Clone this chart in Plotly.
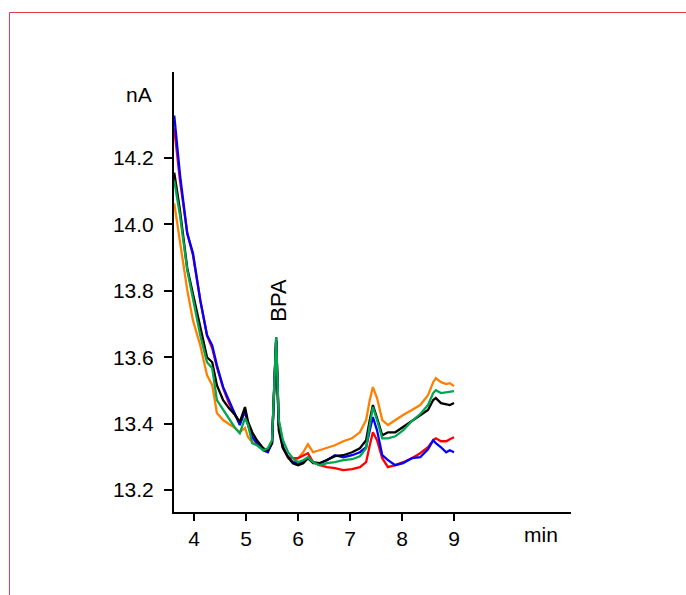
import plotly.graph_objects as go

time_min = [3.62, 3.73, 3.87, 3.98, 4.12, 4.25, 4.35, 4.44, 4.56, 4.67, 4.79, 4.88, 4.98, 5.04, 5.12,
            5.21, 5.33, 5.42, 5.50, 5.58, 5.63, 5.71, 5.81, 5.90, 6.00, 6.10, 6.19, 6.29, 6.42, 6.56,
            6.71, 6.87, 7.04, 7.19, 7.31, 7.38, 7.44, 7.52, 7.62, 7.73, 7.87, 8.02, 8.19, 8.35, 8.50,
            8.60, 8.65, 8.75, 8.85, 8.92, 9.00]

orange_nA = [14.063, 13.943, 13.802, 13.711, 13.636, 13.546, 13.516, 13.432, 13.411, 13.399, 13.387, 13.374,
             13.387, 13.359, 13.344, 13.341, 13.326, 13.320, 13.344, 13.645, 13.411, 13.335, 13.296, 13.284,
             13.296, 13.314, 13.338, 13.314, 13.320, 13.326, 13.335, 13.347, 13.356, 13.374, 13.411, 13.471,
             13.510, 13.477, 13.411, 13.396, 13.411, 13.426, 13.441, 13.456, 13.486, 13.525, 13.537, 13.525,
             13.519, 13.522, 13.513]

red_nA = [14.289, 14.132, 13.973, 13.907, 13.772, 13.666, 13.627, 13.570, 13.507, 13.462, 13.426, 13.402,
          13.435, 13.396, 13.359, 13.341, 13.323, 13.320, 13.341, 13.651, 13.396, 13.329, 13.299, 13.296,
          13.296, 13.305, 13.311, 13.284, 13.275, 13.269, 13.266, 13.260, 13.263, 13.269, 13.284, 13.335,
          13.374, 13.350, 13.296, 13.269, 13.275, 13.284, 13.296, 13.311, 13.329, 13.350, 13.356, 13.347,
          13.347, 13.353, 13.359]

blue_nA = [14.328, 14.150, 13.973, 13.913, 13.772, 13.666, 13.636, 13.576, 13.510, 13.471, 13.432, 13.396,
           13.441, 13.396, 13.359, 13.341, 13.320, 13.314, 13.341, 13.651, 13.396, 13.329, 13.299, 13.284,
           13.281, 13.284, 13.296, 13.284, 13.281, 13.290, 13.305, 13.299, 13.305, 13.314, 13.329, 13.380,
           13.420, 13.380, 13.305, 13.290, 13.275, 13.281, 13.296, 13.299, 13.323, 13.350, 13.341, 13.329,
           13.314, 13.320, 13.314]

black_nA = [14.156, 14.042, 13.868, 13.793, 13.696, 13.600, 13.585, 13.516, 13.471, 13.447, 13.426, 13.405,
            13.450, 13.405, 13.374, 13.350, 13.326, 13.320, 13.341, 13.660, 13.380, 13.326, 13.299, 13.281,
            13.275, 13.281, 13.296, 13.281, 13.281, 13.290, 13.302, 13.305, 13.314, 13.326, 13.350, 13.411,
            13.456, 13.417, 13.365, 13.374, 13.374, 13.390, 13.408, 13.423, 13.441, 13.471, 13.477, 13.462,
            13.459, 13.456, 13.462]

green_nA = [14.132, 14.027, 13.862, 13.772, 13.666, 13.585, 13.567, 13.471, 13.441, 13.417, 13.387, 13.371,
            13.417, 13.396, 13.341, 13.335, 13.320, 13.326, 13.350, 13.660, 13.411, 13.350, 13.314, 13.296,
            13.284, 13.290, 13.299, 13.284, 13.275, 13.281, 13.284, 13.290, 13.293, 13.302, 13.326, 13.396,
            13.450, 13.411, 13.356, 13.356, 13.362, 13.380, 13.408, 13.429, 13.456, 13.492, 13.501, 13.492,
            13.495, 13.495, 13.498]

x_ticks = [4, 5, 6, 7, 8, 9]
y_ticks = [13.2, 13.4, 13.6, 13.8, 14.0, 14.2]
y_tick_text = ["13.2", "13.4", "13.6", "13.8", "14.0", "14.2"]

series = [
    ("orange", orange_nA, "#ff8000"),
    ("red", red_nA, "#ff0000"),
    ("blue", blue_nA, "#0000ff"),
    ("black", black_nA, "#000000"),
    ("green", green_nA, "#00a650"),
]

FONT = "Liberation Sans, Arial, sans-serif"
FS = 21

fig = go.Figure()
for name, vals, col in series:
    fig.add_trace(go.Scatter(x=time_min, y=vals, mode="lines", name=name,
                             line=dict(color=col, width=2.3), showlegend=False,
                             hoverinfo="skip"))

fig.update_layout(
    width=686, height=595,
    margin=dict(l=174, r=115, t=72, b=83),
    paper_bgcolor="white", plot_bgcolor="white",
    font=dict(family=FONT, size=FS, color="black"),
    xaxis=dict(range=[3.615, 11.25], showgrid=False, zeroline=False,
               showline=True, linecolor="black", linewidth=2,
               ticks="outside", ticklen=7, tickwidth=2, tickcolor="black",
               tickvals=x_ticks, tickfont=dict(size=FS, family=FONT)),
    yaxis=dict(range=[13.134, 14.459], showgrid=False, zeroline=False,
               showline=True, linecolor="black", linewidth=2,
               ticks="outside", ticklen=8, tickwidth=2, tickcolor="black",
               tickvals=y_ticks, ticktext=y_tick_text, ticklabelstandoff=6,
               tickfont=dict(size=FS, family=FONT)),
    annotations=[
        dict(text="nA", xref="paper", yref="paper", x=-0.088, y=0.948,
             showarrow=False, font=dict(size=FS, family=FONT), xanchor="center", yanchor="middle"),
        dict(text="min", xref="paper", yref="paper", x=0.924, y=-0.052,
             showarrow=False, font=dict(size=FS, family=FONT), xanchor="center", yanchor="middle"),
        dict(text="BPA", xref="x", yref="y", x=5.62, y=13.771, textangle=-90,
             showarrow=False, font=dict(size=22, family=FONT), xanchor="center", yanchor="middle"),
    ],
    shapes=[
        dict(type="rect", xref="paper", yref="paper", x0=-0.4144, x1=1.325, y0=-0.245, y1=1.1352,
             line=dict(color="#e8364f", width=1), fillcolor="rgba(0,0,0,0)", layer="above"),
    ],
)

fig.write_html("out.html")
